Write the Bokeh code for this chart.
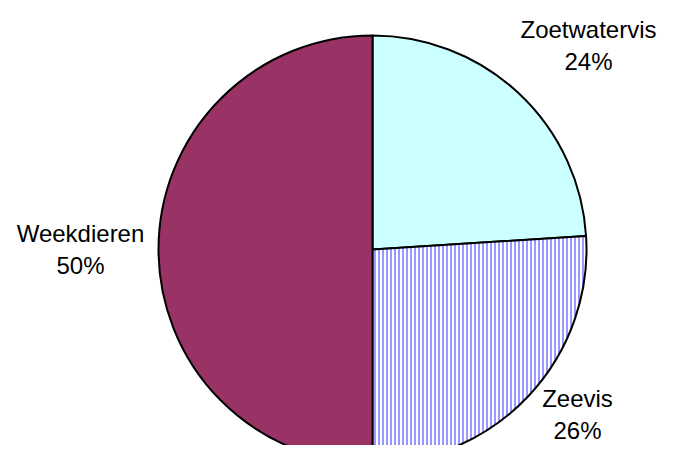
import math
from bokeh.plotting import figure
from bokeh.models import Range1d, ColumnDataSource
from bokeh.core.properties import value
from bokeh.embed import file_html
from bokeh.resources import INLINE

# Data
categories = ["Zoetwatervis", "Zeevis", "Weekdieren"]
values = [24, 26, 50]

# Style / layout
fill_colors = ["#CCFFFF", "#FFFFFF", "#993366"]
hatch_patterns = [" ", "|", " "]
hatch_colors = ["#9999FF", "#9999FF", "#9999FF"]
W, H = 657, 445
cx, cy, R = 372, 196, 214
label_dx = [216, 205, -292]
label_dy = [204, -165, 0]

total = sum(values)
starts, ends = [], []
cum = 0.0
for v in values:
    starts.append(math.pi / 2 - cum / total * 2 * math.pi)
    cum += v
    ends.append(math.pi / 2 - cum / total * 2 * math.pi)

src = ColumnDataSource(dict(
    x=[cx] * len(values), y=[cy] * len(values),
    start=starts, end=ends,
    fill=fill_colors, hatch=hatch_patterns, hcol=hatch_colors,
))

p = figure(width=W, height=H, x_range=Range1d(0, W), y_range=Range1d(0, H),
           output_backend="svg", toolbar_location=None, min_border=0)
p.axis.visible = False
p.grid.visible = False
p.outline_line_color = None
p.background_fill_color = "white"

p.wedge(x="x", y="y", radius=R, start_angle="start", end_angle="end",
        direction="clock", source=src, fill_color="fill",
        hatch_pattern="hatch", hatch_color="hcol", hatch_scale=4, hatch_weight=2,
        line_color="black", line_width=2)

labels = [f"{c}\n{round(v / total * 100)}%" for c, v in zip(categories, values)]
lsrc = ColumnDataSource(dict(
    x=[cx + d for d in label_dx], y=[cy + d for d in label_dy], t=labels))
p.text(x="x", y="y", text="t", source=lsrc, text_align="center",
       text_baseline="middle", text_font=value("Liberation Sans"),
       text_font_size="24px", text_color="black", text_line_height=1.2)

open("out.html", "w").write(file_html(p, INLINE))
